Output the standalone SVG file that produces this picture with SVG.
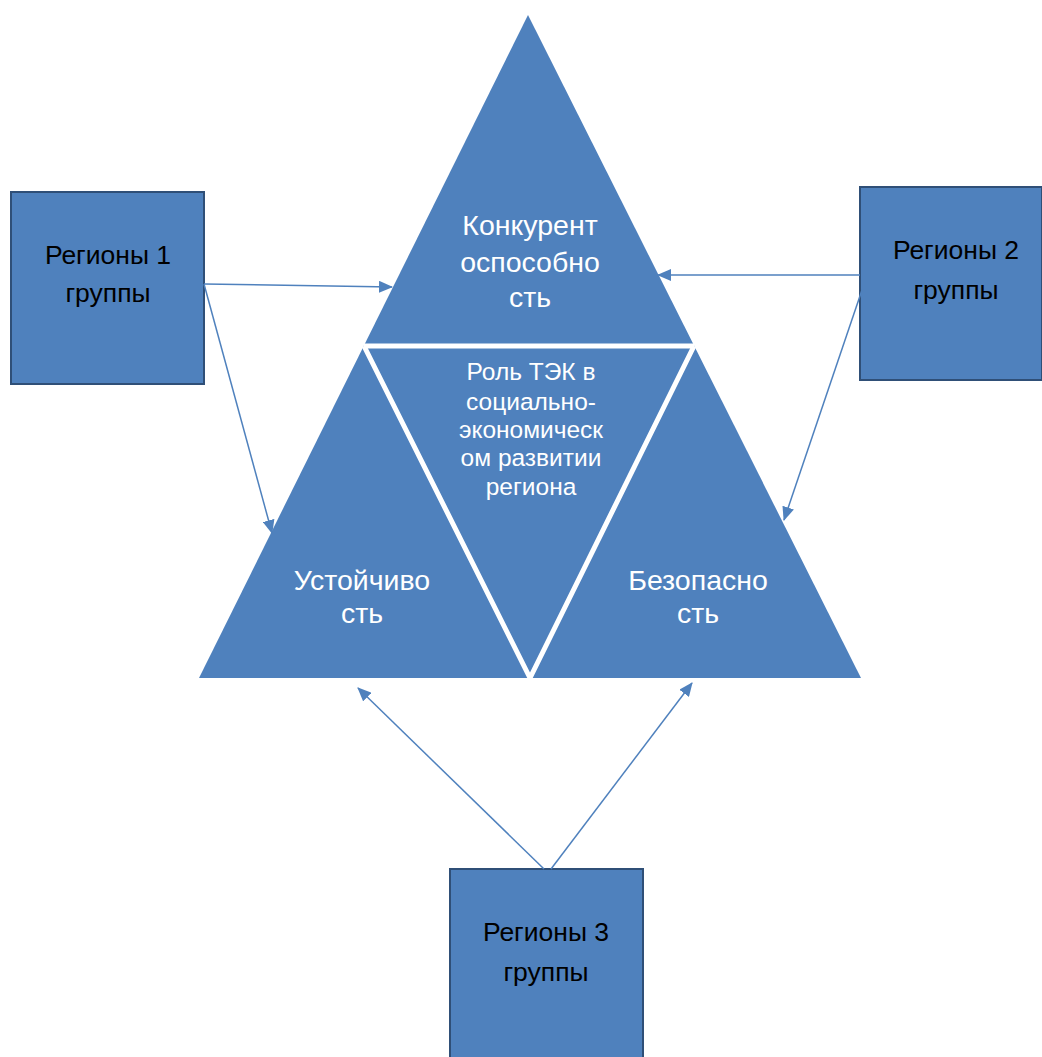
<svg xmlns="http://www.w3.org/2000/svg" width="1042" height="1057" viewBox="0 0 1042 1057">
<style>
.box{fill:#4F81BD;stroke:#2F4F77;stroke-width:2}
.tri{fill:#4F81BD}
.sep{stroke:#FFFFFF;stroke-width:5;fill:none}
.bt{font-family:"Liberation Sans",Arial,sans-serif;font-size:26.5px;fill:#000;text-anchor:middle}
.wt{font-family:"Liberation Sans",Arial,sans-serif;font-size:28.5px;fill:#FFF;text-anchor:middle}
.ct{font-family:"Liberation Sans",Arial,sans-serif;font-size:24.5px;fill:#FFF;text-anchor:middle}
.con{stroke:#4F81BD;stroke-width:1.5;fill:none;marker-end:url(#ah)}
</style>
<defs>
<marker id="ah" viewBox="0 0 14 12" refX="13" refY="6" markerWidth="14" markerHeight="12" markerUnits="userSpaceOnUse" orient="auto">
<path d="M0,0 L14,6 L0,12 z" fill="#4F81BD"/>
</marker>
</defs>
<rect width="1042" height="1057" fill="#FFFFFF"/>
<g id="pyramid">
<polygon class="tri" points="528,15 861,678 199,678"/>
<polyline class="sep" points="364,346 694,346"/>
<polyline class="sep" points="364,346 530,678 694,346"/>
</g>
<g id="konkurent">
<text class="wt" x="530" y="235">Конкурент</text>
<text class="wt" x="530" y="272">оспособно</text>
<text class="wt" x="530" y="307">сть</text>
</g>
<g id="ustoichivost">
<text class="wt" x="362" y="590">Устойчиво</text>
<text class="wt" x="362" y="623">сть</text>
</g>
<g id="bezopasnost">
<text class="wt" x="698" y="590">Безопасно</text>
<text class="wt" x="698" y="623">сть</text>
</g>
<g id="rol">
<text class="ct" x="531" y="380">Роль ТЭК в</text>
<text class="ct" x="531" y="410">социально-</text>
<text class="ct" x="531" y="438">экономическ</text>
<text class="ct" x="531" y="466">ом развитии</text>
<text class="ct" x="531" y="495">региона</text>
</g>
<g id="region1">
<rect class="box" x="11" y="192" width="193" height="192"/>
<text class="bt" x="108" y="264">Регионы 1</text>
<text class="bt" x="108" y="302">группы</text>
</g>
<g id="region2">
<rect class="box" x="860" y="187" width="182" height="193"/>
<text class="bt" x="956" y="259">Регионы 2</text>
<text class="bt" x="956" y="299">группы</text>
</g>
<g id="region3">
<rect class="box" x="450" y="869" width="193" height="200"/>
<text class="bt" x="546" y="941">Регионы 3</text>
<text class="bt" x="546" y="981">группы</text>
</g>
<g id="connectors">
<line class="con" x1="204" y1="284" x2="392" y2="287"/>
<line class="con" x1="204" y1="284" x2="272" y2="533"/>
<line class="con" x1="860" y1="275" x2="658" y2="275"/>
<line class="con" x1="862" y1="290" x2="784" y2="520"/>
<line class="con" x1="544" y1="869" x2="358" y2="688"/>
<line class="con" x1="551" y1="869" x2="692" y2="683"/>
</g>
</svg>
